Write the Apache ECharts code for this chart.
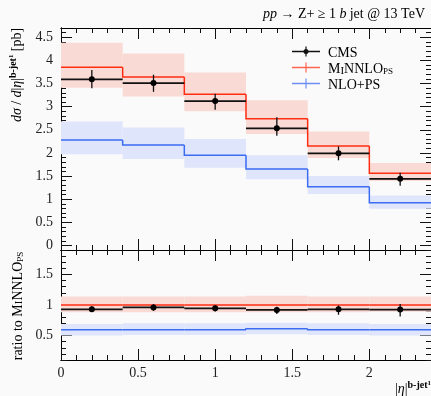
<!DOCTYPE html>
<html><head><meta charset="utf-8">
<script src="https://cdn.jsdelivr.net/npm/echarts@6/dist/echarts.min.js"></script>
<style>html,body{margin:0;padding:0;background:#fafafa}#c{width:431px;height:396px}</style>
</head><body><div id="c"></div>
<script>
// ---- data ----
const binEdges = [0, 0.4, 0.8, 1.2, 1.6, 2.0, 2.4];
const cmsVal = [3.59, 3.51, 3.12, 2.53, 1.99, 1.44];
const cmsLo  = [3.40, 3.32, 2.93, 2.37, 1.84, 1.29];
const cmsHi  = [3.79, 3.69, 3.28, 2.77, 2.14, 1.57];
const minVal = [3.85, 3.64, 3.27, 2.74, 2.15, 1.56];
const minLo  = [3.41, 3.22, 2.90, 2.41, 1.89, 1.39];
const minHi  = [4.38, 4.15, 3.74, 3.14, 2.46, 1.78];
const nloVal = [2.28, 2.17, 1.95, 1.65, 1.27, 0.92];
const nloLo  = [1.97, 1.87, 1.68, 1.43, 1.11, 0.79];
const nloHi  = [2.68, 2.55, 2.30, 1.95, 1.50, 1.08];
// ratio panel
const cmsRatio   = [0.930, 0.960, 0.945, 0.920, 0.930, 0.925];
const cmsRatioLo = [0.885, 0.906, 0.895, 0.852, 0.840, 0.812];
const cmsRatioHi = [0.977, 1.016, 0.993, 0.972, 0.993, 1.016];
const minRatio   = [1.00, 1.00, 1.00, 1.00, 1.00, 1.00];
const minRatioLo = [0.88, 0.88, 0.88, 0.88, 0.88, 0.89];
const minRatioHi = [1.14, 1.14, 1.14, 1.15, 1.14, 1.14];
const nloRatio   = [0.595, 0.595, 0.595, 0.61, 0.595, 0.595];
const nloRatioLo = [0.50, 0.51, 0.51, 0.52, 0.51, 0.50];
const nloRatioHi = [0.69, 0.70, 0.70, 0.71, 0.70, 0.69];
// ticks
const xMajor = [0, 0.5, 1, 1.5, 2];
const xMinor = [0.1,0.2,0.3,0.4,0.6,0.7,0.8,0.9,1.1,1.2,1.3,1.4,1.6,1.7,1.8,1.9,2.1,2.2,2.3];
const yTopMajor = [0, 0.5, 1, 1.5, 2, 2.5, 3, 3.5, 4, 4.5];
const yTopMinor = [-0.1,0.1,0.2,0.3,0.4,0.6,0.7,0.8,0.9,1.1,1.2,1.3,1.4,1.6,1.7,1.8,1.9,2.1,2.2,2.3,2.4,2.6,2.7,2.8,2.9,3.1,3.2,3.3,3.4,3.6,3.7,3.8,3.9,4.1,4.2,4.3,4.4,4.6];
const yRatMajor = [0.5, 1, 1.5];
const yRatMinor = [0.1,0.2,0.3,0.4,0.6,0.7,0.8,0.9,1.1,1.2,1.3,1.4,1.6,1.7,1.8,1.9];

const FONT = '"Liberation Serif", "DejaVu Serif", serif';
const TXT = '#222';
const RED = '#ff2d12', RED_BAND = '#fadad4';
const BLUE = '#3b6cf2', BLUE_BAND = '#dfe5fb';

function mkX(g, pos, vals, len, labels) {
  return {
    gridIndex: g, type: 'value', min: 0, max: 2.4, position: pos,
    axisLine: { show: true, onZero: false, lineStyle: { color: '#000', width: 1 } },
    axisTick: { show: true, inside: true, length: len, customValues: vals, lineStyle: { color: '#111', width: 1 } },
    axisLabel: labels ? { show: true, customValues: vals, margin: 6, fontFamily: FONT, fontSize: 14, color: TXT,
      formatter: v => String(v) } : { show: false },
    splitLine: { show: false }
  };
}
function mkY(g, pos, min, max, vals, len, labels) {
  return {
    gridIndex: g, type: 'value', min: min, max: max, position: pos,
    axisLine: { show: true, onZero: false, lineStyle: { color: '#000', width: 1 } },
    axisTick: { show: true, inside: true, length: len, customValues: vals, lineStyle: { color: '#111', width: 1 } },
    axisLabel: labels ? { show: true, customValues: vals, margin: 8, fontFamily: FONT, fontSize: 14, color: TXT,
      formatter: v => String(v) } : { show: false },
    splitLine: { show: false }
  };
}

const xAxes = [], yAxes = [];
[0, 1].forEach(g => {
  xAxes.push(mkX(g, 'bottom', xMinor, 5, false));
  xAxes.push(mkX(g, 'bottom', xMajor, 11, g === 1));
  xAxes.push(mkX(g, 'top', xMinor, 5, false));
  xAxes.push(mkX(g, 'top', xMajor, 11, false));
});
yAxes.push(mkY(0, 'left', -0.1, 4.7, yTopMinor, 5, false));
yAxes.push(mkY(0, 'left', -0.1, 4.7, yTopMajor, 11, true));
yAxes.push(mkY(0, 'right', -0.1, 4.7, yTopMinor, 5, false));
yAxes.push(mkY(0, 'right', -0.1, 4.7, yTopMajor, 11, false));
yAxes.push(mkY(1, 'left', 0.1, 1.9, yRatMinor, 5, false));
yAxes.push(mkY(1, 'left', 0.1, 1.9, yRatMajor, 11, true));
yAxes.push(mkY(1, 'right', 0.1, 1.9, yRatMinor, 5, false));
yAxes.push(mkY(1, 'right', 0.1, 1.9, yRatMajor, 11, false));

function bandSeries(lo, hi, color, xi, yi) {
  return {
    type: 'custom', xAxisIndex: xi, yAxisIndex: yi, silent: true, z: 1,
    data: lo.map((l, i) => [binEdges[i], binEdges[i + 1], l, hi[i]]),
    renderItem: (p, api) => {
      const a = api.coord([api.value(0), api.value(3)]);
      const b = api.coord([api.value(1), api.value(2)]);
      return { type: 'rect', shape: { x: a[0], y: a[1], width: b[0] - a[0], height: b[1] - a[1] }, style: { fill: color } };
    }
  };
}
function stepSeries(vals, color, xi, yi) {
  return {
    type: 'custom', xAxisIndex: xi, yAxisIndex: yi, silent: true, z: 3,
    data: vals.map((v, i) => [binEdges[i], binEdges[i + 1], v, i === 0 ? v : vals[i - 1]]),
    renderItem: (p, api) => {
      const a = api.coord([api.value(0), api.value(3)]);
      const b = api.coord([api.value(0), api.value(2)]);
      const c = api.coord([api.value(1), api.value(2)]);
      return { type: 'polyline', shape: { points: [a, b, c] }, style: { stroke: color, lineWidth: 1.5, fill: null } };
    }
  };
}
function pointSeries(vals, lo, hi, xi, yi) {
  return {
    type: 'custom', xAxisIndex: xi, yAxisIndex: yi, silent: true, z: 5,
    data: vals.map((v, i) => [binEdges[i], binEdges[i + 1], v, lo[i], hi[i]]),
    renderItem: (p, api) => {
      const x0 = api.value(0), x1 = api.value(1), xc = (x0 + x1) / 2;
      const a = api.coord([x0, api.value(2)]);
      const b = api.coord([x1, api.value(2)]);
      const c = api.coord([xc, api.value(2)]);
      const l = api.coord([xc, api.value(3)]);
      const h = api.coord([xc, api.value(4)]);
      return { type: 'group', children: [
        { type: 'line', shape: { x1: a[0], y1: a[1], x2: b[0], y2: b[1] }, style: { stroke: '#111', lineWidth: 1.8 } },
        { type: 'line', shape: { x1: l[0], y1: l[1], x2: h[0], y2: h[1] }, style: { stroke: '#111', lineWidth: 1.3 } },
        { type: 'circle', shape: { cx: c[0], cy: c[1], r: 3 }, style: { fill: '#000' } }
      ]};
    }
  };
}

const series = [
  bandSeries(minLo, minHi, RED_BAND, 1, 1),
  bandSeries(nloLo, nloHi, BLUE_BAND, 1, 1),
  stepSeries(minVal, RED, 1, 1),
  stepSeries(nloVal, BLUE, 1, 1),
  pointSeries(cmsVal, cmsLo, cmsHi, 1, 1),
  bandSeries(minRatioLo, minRatioHi, RED_BAND, 5, 5),
  bandSeries(nloRatioLo, nloRatioHi, BLUE_BAND, 5, 5),
  stepSeries(minRatio, RED, 5, 5),
  stepSeries(nloRatio, BLUE, 5, 5),
  pointSeries(cmsRatio, cmsRatioLo, cmsRatioHi, 5, 5)
];

const LH = 16;
const rich = {
  n: { fontFamily: FONT, fontSize: 14, color: TXT, verticalAlign: 'bottom', lineHeight: LH },
  i: { fontFamily: FONT, fontSize: 14, color: TXT, fontStyle: 'italic', verticalAlign: 'bottom', lineHeight: LH },
  sc: { fontFamily: FONT, fontSize: 11, color: TXT, verticalAlign: 'bottom', lineHeight: LH },
  sub: { fontFamily: FONT, fontSize: 9, color: TXT, verticalAlign: 'bottom', lineHeight: LH - 2 },
  sup: { fontFamily: FONT, fontSize: 10, color: TXT, fontWeight: 'bold', verticalAlign: 'top', lineHeight: LH - 2 },
  sups: { fontFamily: FONT, fontSize: 7, color: TXT, fontWeight: 'bold', verticalAlign: 'top', lineHeight: LH }
};

function legendItem(y, color, label, dot) {
  const els = [
    { type: 'line', shape: { x1: 292, y1: y, x2: 320, y2: y }, style: { stroke: color, lineWidth: 1.5 } },
    { type: 'line', shape: { x1: 306, y1: y - 5, x2: 306, y2: y + 5 }, style: { stroke: color, lineWidth: 1.2 } },
    { type: 'text', x: 328, y: y + 1, style: { text: label, rich: rich, verticalAlign: 'middle', align: 'left' } }
  ];
  if (dot) els.push({ type: 'circle', shape: { cx: 306, cy: y, r: 2.5 }, style: { fill: color } });
  return els;
}

const graphic = [].concat(
  legendItem(51.5, '#111', '{n|CMS}', true),
  legendItem(67.5, '#ff6650', '{n|M}{sc|I}{n|NNLO}{sub|PS}', false),
  legendItem(83.5, '#6f8ff5', '{n|NLO+PS}', false),
  [
    { type: 'text', x: 425, y: 13, style: { text: '{i|pp} {n|→ Z+ ≥ 1} {i|b} {n|jet @ 13 TeV}', rich: rich, align: 'right', verticalAlign: 'middle' } },
    { type: 'text', x: 16, y: 75, rotation: Math.PI / 2, style: { text: '{i|dσ} {n|/} {i|d}{n||}{i|η}{n||}{sup|b-jet}{sups|1} {n|[pb]}', rich: rich, align: 'center', verticalAlign: 'middle' } },
    { type: 'text', x: 17, y: 306, rotation: Math.PI / 2, style: { text: '{n|ratio to M}{sc|I}{n|NNLO}{sub|PS}', rich: rich, align: 'center', verticalAlign: 'middle' } },
    { type: 'text', x: 431, y: 388, style: { text: '{n||}{i|η}{n||}{sup|b-jet}{sups|1}', rich: rich, align: 'right', verticalAlign: 'middle' } }
  ]
);

const chart = echarts.init(document.getElementById('c'), null, { renderer: 'canvas' });
chart.setOption({
  backgroundColor: '#fafafa',
  animation: false,
  grid: [
    { left: 61, width: 370, top: 28, height: 222 },
    { left: 61, width: 370, top: 250, height: 110 }
  ],
  xAxis: xAxes,
  yAxis: yAxes,
  series: series,
  graphic: graphic
});
</script></body></html>
